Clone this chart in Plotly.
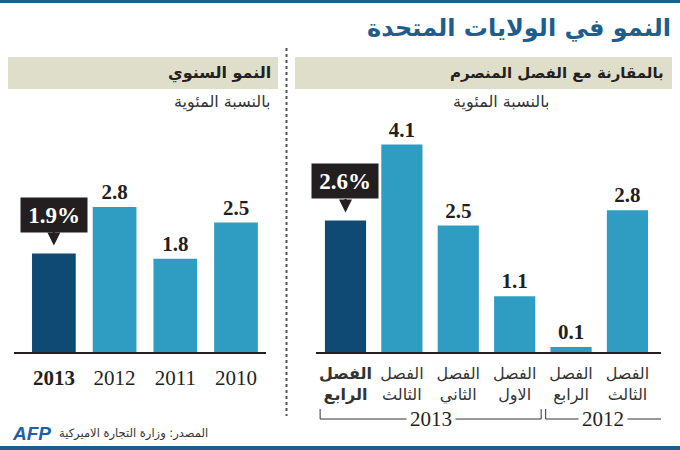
import plotly.graph_objects as go

# ---------------- data ----------------
years = ["2010", "2011", "2012", "2013"]
annual_growth = [2.5, 1.8, 2.8, 1.9]

quarter_ids = ["2012Q3", "2012Q4", "2013Q1", "2013Q2", "2013Q3", "2013Q4"]
quarter_names = ["الثالث", "الرابع", "الاول", "الثاني", "الثالث", "الرابع"]
quarter_years = ["2012", "2012", "2013", "2013", "2013", "2013"]
quarter_growth = [2.8, 0.1, 1.1, 2.5, 4.1, 2.6]

title_text = "النمو في الولايات المتحدة"
left_header = "النمو السنوي"
right_header = "بالمقارنة مع الفصل المنصرم"
subtitle = "بالنسبة المئوية"
source_text = "المصدر: وزارة التجارة الاميركية"
quarter_word = "الفصل"

# ---------------- style ----------------
W, H = 680, 450
LIGHT = "#2f9dc2"
DARK = "#0e4a73"
BLUE = "#1d5e8c"
BAND = "#dfdecb"
INK = "#231f20"
AR = "DejaVu Sans"
SERIF = "Liberation Serif"


def px(x):
    return x / W


def py(y):
    return 1 - y / H


fig = go.Figure()

# left: annual
n_l = len(years)
fig.add_trace(go.Bar(
    x=years, y=annual_growth, xaxis="x", yaxis="y",
    marker=dict(color=[DARK if i == n_l - 1 else LIGHT for i in range(n_l)], line=dict(width=0)),
    width=0.72,
    text=["" if i == n_l - 1 else f"<b>{v}</b>" for i, v in enumerate(annual_growth)],
    textposition="outside", cliponaxis=False,
    textfont=dict(family=SERIF, size=21, color=INK),
    hoverinfo="skip",
))

# right: quarterly
n_r = len(quarter_ids)
fig.add_trace(go.Bar(
    x=quarter_ids, y=quarter_growth, xaxis="x2", yaxis="y2",
    marker=dict(color=[DARK if i == n_r - 1 else LIGHT for i in range(n_r)], line=dict(width=0)),
    width=0.73,
    text=["" if i == n_r - 1 else f"<b>{v}</b>" for i, v in enumerate(quarter_growth)],
    textposition="outside", cliponaxis=False,
    textfont=dict(family=SERIF, size=21, color=INK),
    hoverinfo="skip",
))

left_ticks = [f"<b>{y}</b>" if i == n_l - 1 else y for i, y in enumerate(years)]
right_ticks = [
    (f"<b>{quarter_word}</b><br><b>{q}</b>" if i == n_r - 1 else f"{quarter_word}<br>{q}")
    for i, q in enumerate(quarter_names)
]

ydom = [py(352), py(100)]
fig.update_layout(
    width=W, height=H, margin=dict(l=0, r=0, t=0, b=0),
    paper_bgcolor="white", plot_bgcolor="rgba(0,0,0,0)",
    showlegend=False, bargap=0.2,
    xaxis=dict(domain=[px(14), px(266)], type="category", range=[3.657, -0.494],
               showgrid=False, zeroline=False, showline=True, linecolor=INK, linewidth=1.5,
               ticks="", tickvals=years, ticktext=left_ticks, ticklabelstandoff=6,
               tickfont=dict(family=SERIF, size=21, color=INK)),
    yaxis=dict(domain=ydom, range=[0, 252 / 51.8], visible=False),
    xaxis2=dict(domain=[px(316), px(661)], type="category", range=[5.523, -0.595],
                showgrid=False, zeroline=False, showline=True, linecolor=INK, linewidth=1.5,
                ticks="", tickvals=quarter_ids, ticktext=right_ticks, ticklabelstandoff=6,
                tickfont=dict(family=AR, size=16, color="#333333")),
    yaxis2=dict(domain=ydom, range=[0, 252 / 50.6], visible=False, anchor="x2"),
)

shapes = []
# top and bottom blue rules
shapes.append(dict(type="rect", xref="paper", yref="paper", x0=0, x1=1, y0=py(3), y1=1,
                   fillcolor=BLUE, line_width=0, layer="below"))
shapes.append(dict(type="rect", xref="paper", yref="paper", x0=0, x1=1, y0=0, y1=py(446),
                   fillcolor=BLUE, line_width=0, layer="below"))
# header bands
for x0, x1 in [(8, 278), (295, 672)]:
    shapes.append(dict(type="rect", xref="paper", yref="paper", x0=px(x0), x1=px(x1),
                       y0=py(89), y1=py(57), fillcolor=BAND, line_width=0, layer="below"))
# dotted separator
shapes.append(dict(type="line", xref="paper", yref="paper", x0=px(286.5), x1=px(286.5),
                   y0=py(48), y1=py(416), line=dict(color="#555555", width=2, dash="dot")))

# year brackets under the quarterly chart (positions derived from group index extents)
groups = {}
for i, g in enumerate(quarter_years):
    groups.setdefault(g, []).append(i)
annotations = []
yline = py(419)
ytick = py(409)
for g, idx in groups.items():
    lo = min(idx) - 0.5
    hi = max(idx) + 0.5
    lo_edge = lo + 0.03 if min(idx) > 0 else -0.595
    hi_edge = hi - 0.05
    shapes.append(dict(type="line", xref="x2", yref="paper", x0=lo_edge, x1=hi_edge,
                       y0=yline, y1=yline, line=dict(color="#333333", width=1)))
    if min(idx) > 0:
        shapes.append(dict(type="line", xref="x2", yref="paper", x0=lo_edge, x1=lo_edge,
                           y0=yline, y1=ytick, line=dict(color="#333333", width=1)))
    shapes.append(dict(type="line", xref="x2", yref="paper", x0=hi_edge, x1=hi_edge,
                       y0=yline, y1=ytick, line=dict(color="#333333", width=1)))
    annotations.append(dict(xref="x2", yref="paper", x=(lo_edge + hi_edge) / 2, y=yline,
                            text=g, showarrow=False, bgcolor="white", borderpad=3,
                            font=dict(family=SERIF, size=21, color=INK),
                            xanchor="center", yanchor="middle"))

# callouts for the latest values (category index positions)
for xref, yref, idx, val in [("x", "y", n_l - 1, annual_growth[-1]),
                             ("x2", "y2", n_r - 1, quarter_growth[-1])]:
    annotations.append(dict(xref=xref, yref=yref, x=idx, y=val, text=f"<b>{val}%</b>",
                            showarrow=True, ax=0, ay=-39, standoff=8,
                            arrowhead=2, arrowsize=1.3, arrowwidth=2, arrowcolor=INK,
                            bgcolor=INK, width=60, height=28, borderpad=3,
                            font=dict(family=SERIF, size=23, color="white")))

# texts
annotations += [
    dict(xref="paper", yref="paper", x=px(673), y=py(28), text=f"<b>{title_text}</b>",
         showarrow=False, xanchor="right", yanchor="middle",
         font=dict(family=AR, size=24, color=BLUE)),
    dict(xref="paper", yref="paper", x=px(273), y=py(73), text=f"<b>{left_header}</b>",
         showarrow=False, xanchor="right", yanchor="middle",
         font=dict(family=AR, size=16, color=INK)),
    dict(xref="paper", yref="paper", x=px(666), y=py(73), text=f"<b>{right_header}</b>",
         showarrow=False, xanchor="right", yanchor="middle",
         font=dict(family=AR, size=15, color=INK)),
    dict(xref="paper", yref="paper", x=px(273), y=py(102), text=subtitle,
         showarrow=False, xanchor="right", yanchor="middle",
         font=dict(family=AR, size=16, color="#333333")),
    dict(xref="paper", yref="paper", x=px(552), y=py(102), text=subtitle,
         showarrow=False, xanchor="right", yanchor="middle",
         font=dict(family=AR, size=16, color="#333333")),
    dict(xref="paper", yref="paper", x=px(210), y=py(433), text=source_text,
         showarrow=False, xanchor="right", yanchor="middle",
         font=dict(family=AR, size=11.5, color="#333333")),
    dict(xref="paper", yref="paper", x=px(10), y=py(433), text="<b><i>AFP</i></b>",
         showarrow=False, xanchor="left", yanchor="middle",
         font=dict(family="Liberation Sans", size=19, color="#1d5fa8")),
]

fig.update_layout(shapes=shapes, annotations=annotations)
fig.write_html("out.html")
